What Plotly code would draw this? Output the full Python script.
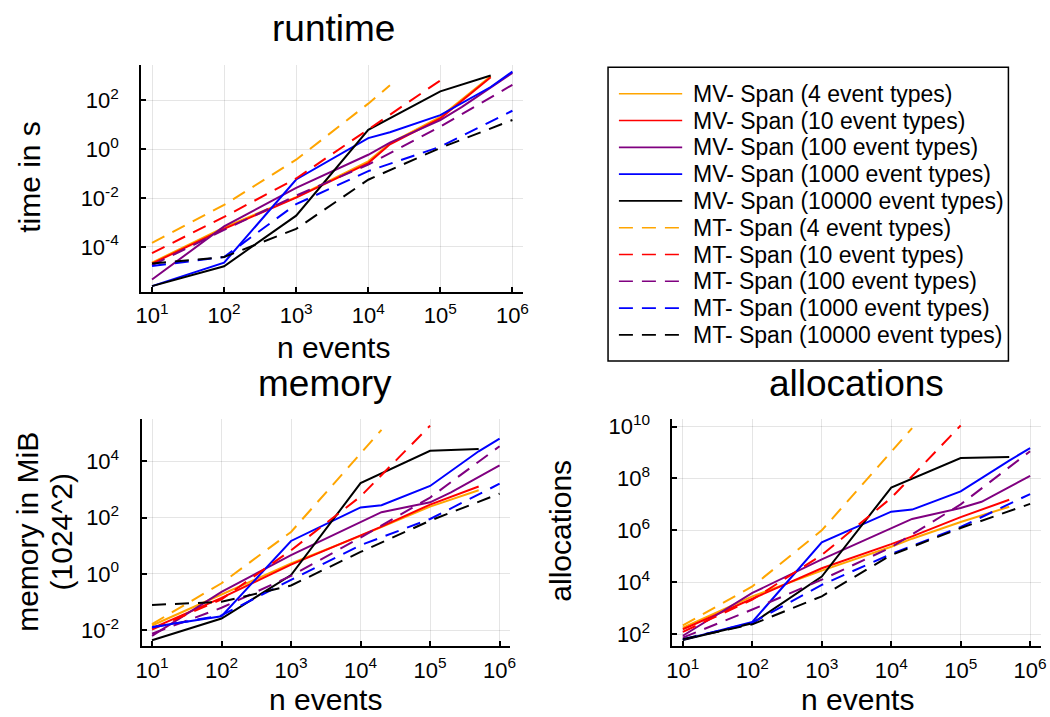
import plotly.graph_objects as go

W, H = 1050, 717
FONT = "Liberation Sans, Arial, sans-serif"

# ---- series definitions -------------------------------------------------
series_names = [
    "MV- Span (4 event types)",
    "MV- Span (10 event types)",
    "MV- Span (100 event types)",
    "MV- Span (1000 event types)",
    "MV- Span (10000 event types)",
    "MT- Span (4 event types)",
    "MT- Span (10 event types)",
    "MT- Span (100 event types)",
    "MT- Span (1000 event types)",
    "MT- Span (10000 event types)",
]
series_colors = ["#FFA500", "#FF0000", "#800080", "#0000FF", "#000000"] * 2
series_dash = ["solid"] * 5 + ["14px,9px"] * 5

# number of events measured for each series
n_mv_4_10 = [10, 100, 1000, 10000, 20000, 100000, 500000]
n_mv_100 = [10, 100, 1000, 10000, 20000, 100000, 200000, 1000000]
n_mv_1000 = [10, 100, 1000, 10000, 20000, 100000, 500000, 1000000]
n_mv_10000 = [10, 100, 1000, 10000, 100000, 500000]
n_mt_4 = [10, 100, 1000, 10000, 20000]
n_mt_10 = [10, 100, 1000, 10000, 100000]
n_mt_big = [10, 100, 1000, 10000, 100000, 1000000]
series_n = [n_mv_4_10, n_mv_4_10, n_mv_100, n_mv_1000, n_mv_10000,
            n_mt_4, n_mt_10, n_mt_big, n_mt_big, n_mt_big]

# ---- measurements, stored as log10 --------------------------------------
# runtime, log10(seconds)
runtime_mv_4 = [-4.64, -3.20, -1.96, -0.50, 0.24, 1.32, 2.98]
runtime_mv_10 = [-4.68, -3.26, -1.98, -0.57, 0.20, 1.26, 2.94]
runtime_mv_100 = [-5.33, -3.16, -1.58, -0.23, 0.27, 1.19, 1.73, 3.12]
runtime_mv_1000 = [-5.60, -4.64, -1.24, 0.45, 0.69, 1.39, 2.54, 3.17]
runtime_mv_10000 = [-5.60, -4.79, -2.72, 0.79, 2.36, 3.01]
runtime_mt_4 = [-3.83, -2.28, -0.43, 1.86, 2.61]
runtime_mt_10 = [-4.25, -2.77, -1.20, 0.82, 2.81]
runtime_mt_100 = [-4.75, -3.30, -1.90, -0.63, 0.92, 2.63]
runtime_mt_1000 = [-4.78, -4.41, -2.25, -0.90, 0.10, 1.57]
runtime_mt_10000 = [-4.68, -4.41, -3.26, -1.25, 0.05, 1.19]

# memory, log10(MiB)
memory_mv_4 = [-1.83, -0.74, 0.37, 1.35, 1.66, 2.39, 2.97]
memory_mv_10 = [-1.93, -0.85, 0.33, 1.37, 1.68, 2.46, 3.10]
memory_mv_100 = [-2.20, -0.64, 0.67, 1.84, 2.19, 2.54, 2.89, 3.85]
memory_mv_1000 = [-1.88, -1.50, 1.17, 2.36, 2.44, 3.12, 4.35, 4.80]
memory_mv_10000 = [-2.35, -1.58, -0.04, 3.22, 4.37, 4.43]
memory_mt_4 = [-1.78, -0.33, 1.49, 4.25, 5.11]
memory_mt_10 = [-1.97, -0.90, 0.84, 2.75, 5.26]
memory_mt_100 = [-2.12, -1.20, -0.07, 1.29, 2.71, 4.53]
memory_mt_1000 = [-1.90, -1.47, -0.21, 1.02, 1.95, 3.20]
memory_mt_10000 = [-1.10, -0.99, -0.41, 0.78, 1.89, 2.85]

# allocations, log10(count)
alloc_mv_4 = [2.25, 3.46, 4.45, 5.37, 5.68, 6.32, 6.91]
alloc_mv_10 = [2.19, 3.36, 4.54, 5.47, 5.77, 6.51, 7.18]
alloc_mv_100 = [1.94, 3.59, 4.88, 6.06, 6.44, 6.86, 7.10, 8.10]
alloc_mv_1000 = [1.78, 2.47, 5.54, 6.72, 6.80, 7.50, 8.69, 9.17]
alloc_mv_10000 = [1.78, 2.42, 4.22, 7.65, 8.79, 8.83]
alloc_mt_4 = [2.34, 3.84, 6.00, 9.05, 9.94]
alloc_mt_10 = [2.09, 3.33, 5.05, 7.25, 10.04]
alloc_mt_100 = [1.87, 2.95, 4.10, 5.35, 7.00, 9.05]
alloc_mt_1000 = [1.81, 2.44, 3.90, 5.09, 6.13, 7.40]
alloc_mt_10000 = [1.81, 2.38, 3.46, 5.05, 6.09, 7.02]

runtime = [runtime_mv_4, runtime_mv_10, runtime_mv_100, runtime_mv_1000, runtime_mv_10000,
           runtime_mt_4, runtime_mt_10, runtime_mt_100, runtime_mt_1000, runtime_mt_10000]
memory = [memory_mv_4, memory_mv_10, memory_mv_100, memory_mv_1000, memory_mv_10000,
          memory_mt_4, memory_mt_10, memory_mt_100, memory_mt_1000, memory_mt_10000]
allocations = [alloc_mv_4, alloc_mv_10, alloc_mv_100, alloc_mv_1000, alloc_mv_10000,
               alloc_mt_4, alloc_mt_10, alloc_mt_100, alloc_mt_1000, alloc_mt_10000]

# tick labels
x_tick_exp = [1, 2, 3, 4, 5, 6]
runtime_tick_exp = [-4, -2, 0, 2]
memory_tick_exp = [-2, 0, 2, 4]
alloc_tick_exp = [2, 4, 6, 8, 10]


def px_x(x):
    return x / W


def px_y(y):
    return 1 - y / H


fig = go.Figure()

panels = [
    ("x", "y", runtime),
    ("x2", "y2", memory),
    ("x3", "y3", allocations),
]
for xa, ya, data in panels:
    for i in range(10):
        fig.add_trace(go.Scatter(
            x=series_n[i],
            y=[10 ** v for v in data[i]],
            mode="lines",
            name=series_names[i],
            line=dict(color=series_colors[i], width=2, dash=series_dash[i]),
            xaxis=xa, yaxis=ya,
            showlegend=False,
        ))

TICK_FONT = dict(family=FONT, size=22, color="black")


def log_ticks(exps):
    return [10 ** e for e in exps], [f"10<sup>{e}</sup>" for e in exps]


def x_axis(left, right, anchor):
    vals, text = log_ticks(x_tick_exp)
    return dict(
        type="log", range=[0.85, 6.15],
        domain=[px_x(left), px_x(right)], anchor=anchor,
        tickvals=vals, ticktext=text, tickfont=TICK_FONT,
        showline=True, linecolor="black", linewidth=2,
        ticks="inside", ticklen=5, tickwidth=1.5, tickcolor="black",
        showgrid=True, gridcolor="rgba(0,0,0,0.1)", gridwidth=1,
        zeroline=False, ticklabelstandoff=3,
    )


def y_axis(top, bottom, rng, exps, anchor):
    vals, text = log_ticks(exps)
    return dict(
        type="log", range=rng,
        domain=[px_y(bottom), px_y(top)], anchor=anchor,
        tickvals=vals, ticktext=text, tickfont=TICK_FONT,
        showline=True, linecolor="black", linewidth=2,
        ticks="inside", ticklen=5, tickwidth=1.5, tickcolor="black",
        showgrid=True, gridcolor="rgba(0,0,0,0.1)", gridwidth=1,
        zeroline=False, ticklabelstandoff=16,
    )


annotations = []


def text(x, y, s, size, angle=0, xanchor="center"):
    annotations.append(dict(
        x=px_x(x), y=px_y(y), xref="paper", yref="paper",
        text=s, showarrow=False, textangle=angle,
        xanchor=xanchor, yanchor="middle", borderpad=0,
        font=dict(family=FONT, size=size, color="black"),
    ))


# panel titles
text(331, 21, "runtime", 37)
text(323, 380, "memory", 37)
text(860, 380, "allocations", 37)
# axis titles
text(331, 343, "n events", 30)
text(323, 699, "n events", 30)
text(861, 699, "n events", 30)
text(23, 171, "time in s", 30, angle=-90)
text(21, 530, "memory in MiB", 30, angle=-90)
text(56, 530, "(1024^2)", 30, angle=-90)
text(561, 529, "allocations", 30, angle=-90)

# legend box with line samples
shapes = [dict(
    type="rect", xref="paper", yref="paper",
    x0=px_x(609), x1=px_x(1014), y0=px_y(357), y1=px_y(60),
    line=dict(color="black", width=1.5), fillcolor="white", layer="below",
)]
row0, row_step = 86.7, 27.1
for i in range(10):
    ry = row0 + i * row_step
    shapes.append(dict(
        type="line", xref="paper", yref="paper",
        x0=px_x(620), x1=px_x(684), y0=px_y(ry), y1=px_y(ry),
        line=dict(color=series_colors[i], width=1.6, dash=series_dash[i]),
    ))
    text(694, ry, series_names[i], 23, xanchor="left")

fig.update_layout(
    width=W, height=H,
    margin=dict(l=0, r=0, t=0, b=0),
    paper_bgcolor="white", plot_bgcolor="white",
    font=dict(family=FONT, color="black"),
    showlegend=False,
    xaxis=x_axis(136.76, 523.2, "y"),
    yaxis=y_axis(57.4, 287.2, [-5.84, 3.45], runtime_tick_exp, "x"),
    xaxis2=x_axis(137.15, 509.85, "y2"),
    yaxis2=y_axis(416.1, 645.3, [-2.56, 5.48], memory_tick_exp, "x2"),
    xaxis3=x_axis(674.16, 1046.5, "y3"),
    yaxis3=y_axis(415.4, 645.6, [1.53, 10.3], alloc_tick_exp, "x3"),
    annotations=annotations,
    shapes=shapes,
)

fig.write_html("out.html")
